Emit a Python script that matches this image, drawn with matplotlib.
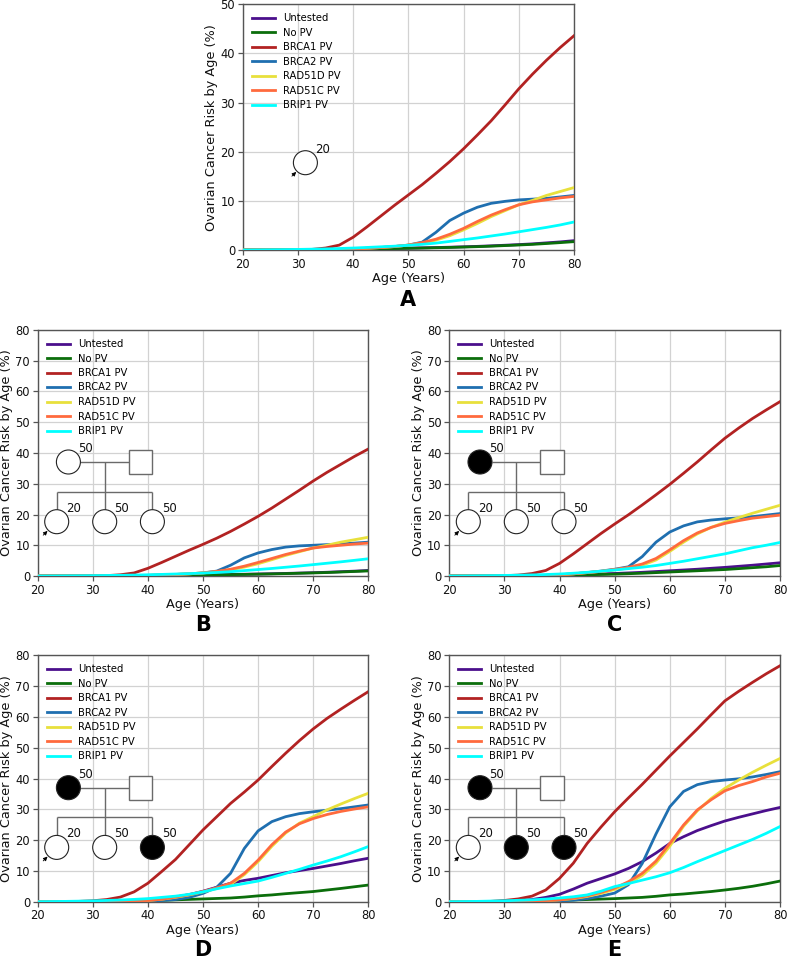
import matplotlib
matplotlib.use("Agg")
import matplotlib.pyplot as plt
import matplotlib.transforms as mtransforms
from matplotlib.patches import Circle, Rectangle

# ---------------- data ----------------
AGES = [20, 22.5, 25, 27.5, 30, 32.5, 35, 37.5, 40, 42.5, 45, 47.5, 50,
        52.5, 55, 57.5, 60, 62.5, 65, 67.5, 70, 72.5, 75, 77.5, 80]

LABELS = ["Untested", "No PV", "BRCA1 PV", "BRCA2 PV", "RAD51D PV", "RAD51C PV", "BRIP1 PV"]
COLORS = ["#4b0f8c", "#0b6e0b", "#b22222", "#1f6fb0", "#e8e03c", "#ff6a3d", "#00ffff"]

# Panel A
A_UNTESTED = [0, 0, 0, 0.02, 0.05, 0.08, 0.1, 0.13, 0.17, 0.22, 0.27, 0.32, 0.38, 0.44, 0.5, 0.57, 0.65, 0.74, 0.85, 0.97, 1.1, 1.25, 1.45, 1.65, 1.9]
A_NOPV = [0, 0, 0, 0.02, 0.05, 0.07, 0.09, 0.12, 0.15, 0.2, 0.25, 0.3, 0.35, 0.4, 0.46, 0.52, 0.6, 0.68, 0.78, 0.9, 1.02, 1.15, 1.32, 1.5, 1.7]
A_BRCA1 = [0, 0, 0, 0.02, 0.05, 0.12, 0.4, 1.0, 2.6, 4.7, 6.9, 9.1, 11.2, 13.3, 15.6, 18.0, 20.6, 23.4, 26.3, 29.5, 32.8, 35.8, 38.6, 41.2, 43.6]
A_BRCA2 = [0, 0, 0, 0, 0.01, 0.02, 0.05, 0.1, 0.2, 0.35, 0.5, 0.7, 1.0, 1.6, 3.6, 6.0, 7.5, 8.7, 9.5, 9.9, 10.2, 10.35, 10.5, 10.8, 11.1]
A_RAD51D = [0, 0, 0, 0, 0.01, 0.02, 0.05, 0.1, 0.2, 0.35, 0.5, 0.7, 1.0, 1.4, 2.0, 2.9, 4.1, 5.4, 6.8, 8.0, 9.2, 10.1, 11.1, 11.9, 12.7]
A_RAD51C = [0, 0, 0, 0, 0.01, 0.02, 0.05, 0.1, 0.2, 0.35, 0.5, 0.7, 1.0, 1.5, 2.2, 3.2, 4.4, 5.8, 7.1, 8.2, 9.2, 9.8, 10.2, 10.6, 10.9]
A_BRIP1 = [0, 0.02, 0.05, 0.08, 0.12, 0.17, 0.22, 0.3, 0.4, 0.52, 0.65, 0.78, 0.95, 1.15, 1.4, 1.75, 2.1, 2.45, 2.85, 3.25, 3.7, 4.15, 4.6, 5.1, 5.7]

# Panel B
B_UNTESTED = [0, 0, 0, 0.02, 0.05, 0.08, 0.1, 0.13, 0.17, 0.22, 0.27, 0.32, 0.38, 0.44, 0.5, 0.57, 0.65, 0.74, 0.84, 0.95, 1.08, 1.22, 1.4, 1.58, 1.8]
B_NOPV = [0, 0, 0, 0.02, 0.05, 0.07, 0.09, 0.12, 0.15, 0.2, 0.25, 0.3, 0.35, 0.4, 0.46, 0.52, 0.6, 0.68, 0.78, 0.9, 1.0, 1.13, 1.3, 1.48, 1.65]
B_BRCA1 = [0, 0, 0, 0.02, 0.05, 0.12, 0.4, 1.0, 2.5, 4.4, 6.4, 8.4, 10.3, 12.3, 14.5, 16.9, 19.4, 22.1, 25.0, 27.9, 30.9, 33.7, 36.3, 38.9, 41.3]
B_BRCA2 = [0, 0, 0, 0, 0.01, 0.02, 0.05, 0.1, 0.2, 0.35, 0.5, 0.7, 1.0, 1.6, 3.5, 5.9, 7.5, 8.6, 9.4, 9.8, 10.0, 10.2, 10.4, 10.7, 11.0]
B_RAD51D = [0, 0, 0, 0, 0.01, 0.02, 0.05, 0.1, 0.2, 0.35, 0.5, 0.7, 1.0, 1.4, 2.0, 2.9, 4.0, 5.3, 6.7, 7.9, 9.1, 10.0, 11.0, 11.8, 12.6]
B_RAD51C = [0, 0, 0, 0, 0.01, 0.02, 0.05, 0.1, 0.2, 0.35, 0.5, 0.7, 1.0, 1.5, 2.2, 3.2, 4.4, 5.7, 7.0, 8.1, 9.1, 9.6, 10.0, 10.4, 10.7]
B_BRIP1 = [0, 0.02, 0.05, 0.08, 0.12, 0.17, 0.22, 0.3, 0.4, 0.52, 0.65, 0.78, 0.95, 1.15, 1.4, 1.75, 2.1, 2.45, 2.85, 3.25, 3.7, 4.15, 4.6, 5.1, 5.6]

# Panel C
C_UNTESTED = [0, 0, 0, 0.02, 0.05, 0.1, 0.15, 0.2, 0.3, 0.42, 0.55, 0.68, 0.82, 1.0, 1.2, 1.45, 1.7, 1.95, 2.2, 2.5, 2.8, 3.15, 3.5, 3.9, 4.3]
C_NOPV = [0, 0, 0, 0.02, 0.05, 0.08, 0.12, 0.17, 0.23, 0.32, 0.4, 0.5, 0.6, 0.75, 0.9, 1.1, 1.3, 1.5, 1.7, 1.9, 2.1, 2.4, 2.7, 3.0, 3.4]
C_BRCA1 = [0, 0, 0, 0.05, 0.1, 0.3, 0.8, 1.8, 4.1, 7.2, 10.5, 13.8, 16.9, 19.9, 23.1, 26.4, 29.8, 33.4, 37.1, 41.0, 44.8, 48.1, 51.2, 54.0, 56.7]
C_BRCA2 = [0, 0, 0, 0, 0.02, 0.05, 0.1, 0.2, 0.4, 0.7, 1.1, 1.6, 2.2, 3.0, 6.3, 11.0, 14.3, 16.3, 17.6, 18.2, 18.6, 18.9, 19.3, 19.8, 20.3]
C_RAD51D = [0, 0, 0, 0, 0.02, 0.05, 0.1, 0.2, 0.4, 0.7, 1.1, 1.5, 2.0, 2.6, 3.5, 5.2, 8.0, 11.0, 13.7, 15.8, 17.5, 19.0, 20.4, 21.7, 23.0]
C_RAD51C = [0, 0, 0, 0, 0.02, 0.05, 0.1, 0.2, 0.4, 0.7, 1.1, 1.5, 2.1, 2.8, 3.9, 5.7, 8.5, 11.5, 14.0, 15.8, 17.1, 18.0, 18.8, 19.3, 19.8]
C_BRIP1 = [0, 0.03, 0.07, 0.12, 0.18, 0.26, 0.35, 0.48, 0.65, 0.9, 1.2, 1.55, 1.95, 2.4, 2.85, 3.4, 4.1, 4.8, 5.6, 6.4, 7.2, 8.2, 9.2, 10.0, 10.9]

# Panel D
D_UNTESTED = [0, 0, 0, 0.03, 0.08, 0.15, 0.25, 0.4, 0.6, 1.0, 1.5, 2.3, 3.4, 4.7, 6.0, 6.9, 7.6, 8.5, 9.4, 10.1, 10.8, 11.6, 12.4, 13.3, 14.1]
D_NOPV = [0, 0, 0, 0.02, 0.05, 0.08, 0.12, 0.2, 0.3, 0.45, 0.6, 0.75, 0.9, 1.05, 1.2, 1.5, 1.9, 2.2, 2.6, 2.95, 3.3, 3.8, 4.3, 4.85, 5.4]
D_BRCA1 = [0, 0, 0, 0.1, 0.3, 0.7, 1.5, 3.2, 6.0, 9.8, 13.7, 18.5, 23.3, 27.6, 31.9, 35.6, 39.5, 43.9, 48.2, 52.3, 56.1, 59.5, 62.5, 65.4, 68.2]
D_BRCA2 = [0, 0, 0, 0, 0.02, 0.05, 0.1, 0.15, 0.2, 0.4, 0.7, 1.4, 2.7, 4.7, 9.2, 17.3, 23.0, 26.0, 27.6, 28.6, 29.2, 29.7, 30.2, 30.8, 31.4]
D_RAD51D = [0, 0, 0, 0, 0.02, 0.05, 0.1, 0.2, 0.4, 0.8, 1.4, 2.2, 3.2, 4.3, 5.6, 8.8, 13.0, 18.0, 22.3, 25.5, 27.6, 29.8, 31.7, 33.5, 35.2]
D_RAD51C = [0, 0, 0, 0, 0.02, 0.05, 0.1, 0.2, 0.4, 0.8, 1.5, 2.3, 3.3, 4.5, 6.0, 9.2, 13.5, 18.5, 22.6, 25.3, 27.0, 28.3, 29.3, 30.1, 30.8]
D_BRIP1 = [0, 0.05, 0.1, 0.18, 0.28, 0.4, 0.55, 0.75, 1.0, 1.4, 1.8, 2.4, 3.2, 4.2, 5.1, 5.9, 6.7, 7.9, 9.2, 10.5, 11.9, 13.2, 14.6, 16.2, 17.9]

# Panel E
E_UNTESTED = [0, 0, 0, 0.05, 0.15, 0.35, 0.7, 1.4, 2.4, 4.1, 6.0, 7.5, 9.0, 10.8, 13.0, 15.8, 18.9, 21.1, 23.1, 24.7, 26.2, 27.4, 28.5, 29.6, 30.6]
E_NOPV = [0, 0, 0, 0.02, 0.05, 0.1, 0.15, 0.25, 0.4, 0.55, 0.7, 0.85, 1.0, 1.2, 1.4, 1.75, 2.2, 2.5, 2.9, 3.3, 3.8, 4.35, 5.0, 5.8, 6.7]
E_BRCA1 = [0, 0, 0, 0.1, 0.4, 0.9, 1.8, 3.8, 7.6, 12.5, 18.9, 24.2, 29.2, 33.7, 38.1, 42.7, 47.3, 51.7, 56.1, 60.7, 65.2, 68.3, 71.2, 74.0, 76.6]
E_BRCA2 = [0, 0, 0, 0, 0.02, 0.05, 0.1, 0.15, 0.2, 0.5, 1.0, 1.8, 2.8, 5.5, 12.4, 22.0, 30.8, 35.8, 38.0, 39.0, 39.5, 39.9, 40.5, 41.3, 42.2]
E_RAD51D = [0, 0, 0, 0.02, 0.05, 0.1, 0.2, 0.35, 0.6, 1.0, 1.7, 2.7, 4.0, 5.9, 8.5, 12.5, 18.0, 24.5, 29.5, 33.5, 36.8, 39.5, 42.0, 44.3, 46.5]
E_RAD51C = [0, 0, 0, 0.02, 0.05, 0.1, 0.2, 0.35, 0.6, 1.1, 1.9, 3.0, 4.4, 6.5, 9.2, 13.2, 18.9, 24.9, 29.8, 33.1, 36.0, 37.7, 39.0, 40.5, 41.7]
E_BRIP1 = [0, 0.05, 0.1, 0.2, 0.3, 0.45, 0.6, 0.85, 1.2, 1.6, 2.2, 3.4, 4.9, 5.9, 7.0, 8.1, 9.4, 11.1, 13.0, 14.8, 16.6, 18.4, 20.2, 22.2, 24.4]

XTICKS = [20, 30, 40, 50, 60, 70, 80]
YTICKS_A = [0, 10, 20, 30, 40, 50]
YTICKS_BE = [0, 10, 20, 30, 40, 50, 60, 70, 80]
PANEL_LETTERS = ["A", "B", "C", "D", "E"]

# ---------------- figure ----------------
W, H = 787, 959
fig = plt.figure(figsize=(W / 100, H / 100), dpi=100)

# axes boxes in pixels: left, right, top, bottom
BOXES = {
    "A": (242.7, 574.0, 4.3, 250.0),
    "B": (37.7, 368.3, 330.0, 576.0),
    "C": (449.3, 780.0, 330.0, 576.0),
    "D": (37.7, 368.3, 655.3, 901.7),
    "E": (449.3, 780.0, 655.3, 901.7),
}
LETTER_Y = {"A": 300, "B": 625, "C": 625, "D": 950, "E": 950}

SERIES = {
    "A": [A_UNTESTED, A_NOPV, A_BRCA1, A_BRCA2, A_RAD51D, A_RAD51C, A_BRIP1],
    "B": [B_UNTESTED, B_NOPV, B_BRCA1, B_BRCA2, B_RAD51D, B_RAD51C, B_BRIP1],
    "C": [C_UNTESTED, C_NOPV, C_BRCA1, C_BRCA2, C_RAD51D, C_RAD51C, C_BRIP1],
    "D": [D_UNTESTED, D_NOPV, D_BRCA1, D_BRCA2, D_RAD51D, D_RAD51C, D_BRIP1],
    "E": [E_UNTESTED, E_NOPV, E_BRCA1, E_BRCA2, E_RAD51D, E_RAD51C, E_BRIP1],
}
# filled: mother, child1, child2, child3
FILLED = {
    "B": (False, False, False, False),
    "C": (True, False, False, False),
    "D": (True, False, False, True),
    "E": (True, False, True, True),
}

SPINE = "#555555"
PED_LINE = "#6a6a6a"
R = 12.0


def pix_transform(ax):
    w, h = ax.bbox.width, ax.bbox.height
    return mtransforms.Affine2D().scale(1.0 / w, 1.0 / h) + ax.transAxes


def person_circle(ax, T, x, y, filled, label):
    ax.add_patch(Circle((x, y), R, transform=T, facecolor="black" if filled else "white",
                        edgecolor="#222222", lw=0.8, zorder=6, clip_on=False))
    ax.text(x + 17, y + 13.5, label, transform=T, ha="center", va="center",
            fontsize=8.5, color="#111111", zorder=7)


def proband_arrow(ax, T, x, y):
    ax.annotate("", xy=(x - 9.2, y - 9.2), xytext=(x - 13.5, y - 13.5),
                xycoords=T, textcoords=T,
                arrowprops=dict(arrowstyle="-|>", color="black", lw=0.6,
                                mutation_scale=6, shrinkA=0, shrinkB=0),
                zorder=7)


def pedigree(ax, key):
    T = pix_transform(ax)
    if key == "A":
        person_circle(ax, T, 62.7, 87.3, False, "20")
        proband_arrow(ax, T, 62.7, 87.3)
        return
    f = FILLED[key]
    my, cy = 114.0, 54.3
    mx, fx = 30.7, 102.7
    kids = [19.0, 67.0, 114.7]
    sib_y = 84.3
    lkw = dict(transform=T, color=PED_LINE, lw=1.0, zorder=5, solid_capstyle="butt")
    ax.plot([mx + R, fx - 11.8], [my, my], **lkw)
    ax.plot([67.0, 67.0], [my, sib_y], **lkw)
    ax.plot([kids[0], kids[2]], [sib_y, sib_y], **lkw)
    for kx in kids:
        ax.plot([kx, kx], [sib_y, cy + R], **lkw)
    ax.add_patch(Rectangle((fx - 11.8, my - 11.8), 23.6, 23.6, transform=T,
                           facecolor="white", edgecolor=PED_LINE, lw=1.0, zorder=6))
    person_circle(ax, T, mx, my, f[0], "50")
    for kx, fill, lab in zip(kids, f[1:], ["20", "50", "50"]):
        person_circle(ax, T, kx, cy, fill, lab)
    proband_arrow(ax, T, kids[0], cy)


for key in PANEL_LETTERS:
    l, r, t, b = BOXES[key]
    ax = fig.add_axes([l / W, 1 - b / H, (r - l) / W, (b - t) / H])
    for lab, col, vals in zip(LABELS, COLORS, SERIES[key]):
        ax.plot(AGES, vals, color=col, lw=2.0, label=lab, zorder=3)
    ax.set_xlim(20, 80)
    ax.set_xticks(XTICKS)
    if key == "A":
        ax.set_ylim(0, 50)
        ax.set_yticks(YTICKS_A)
    else:
        ax.set_ylim(0, 80)
        ax.set_yticks(YTICKS_BE)
    ax.grid(True, color="#d2d2d2", lw=0.9, zorder=0)
    ax.set_axisbelow(True)
    for s in ax.spines.values():
        s.set_color(SPINE)
        s.set_linewidth(1.0)
    ax.tick_params(axis="both", labelsize=8.3, length=3.5, width=0.9, color=SPINE,
                   labelcolor="#111111", pad=2)
    ax.set_xlabel("Age (Years)", fontsize=9.3, labelpad=1.0, color="#111111")
    ax.set_ylabel("Ovarian Cancer Risk by Age (%)", fontsize=9.3, labelpad=1.5, color="#111111")
    leg = ax.legend(loc="upper left", frameon=False, fontsize=7.2, handlelength=2.3,
                    labelspacing=0.45)
    pedigree(ax, key)
    fig.text((l + r) / 2 / W, 1 - LETTER_Y[key] / H, key, ha="center", va="center",
             fontsize=15, fontweight="bold")

fig.savefig("out.png", dpi=100)
